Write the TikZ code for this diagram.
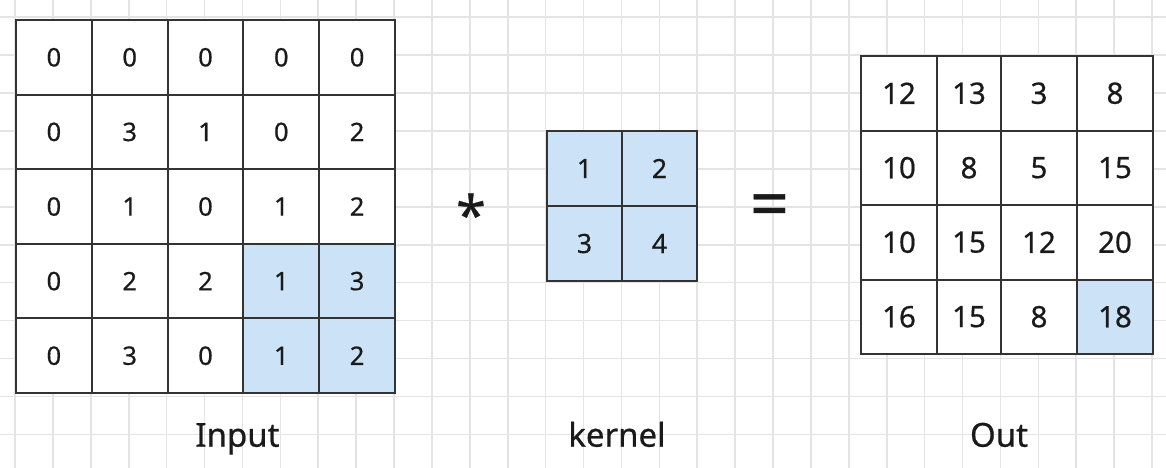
\documentclass[tikz,border=0pt]{standalone}
\usepackage{fontspec}
\setmainfont{Noto Sans}[FakeBold=0.6]
\definecolor{cellblue}{HTML}{CCE2F7}
\definecolor{cellline}{HTML}{333333}
\definecolor{gridgray}{HTML}{E4E4E4}
\definecolor{txt}{HTML}{1A1A1A}
\begin{document}
\begin{tikzpicture}[x=1pt,y=-1pt,
  cell/.style={draw=cellline,line width=2pt,rectangle,inner sep=0pt,fill=white,text=txt},
  hl/.style={fill=cellblue},
  incell/.style={cell,minimum width=75.8pt,minimum height=74.6pt,font=\fontsize{25.5}{30}\selectfont},
  kcell/.style={cell,minimum width=75pt,minimum height=75pt,fill=cellblue,font=\fontsize{26.5}{30}\selectfont},
  ocell/.style={cell,minimum height=74.5pt,font=\fontsize{29.5}{34}\selectfont},
  lbl/.style={anchor=base,text=txt,font=\fontsize{33}{38}\selectfont,inner sep=0pt},
  op/.style={text=txt,inner sep=0pt}]
\fill[white] (0,0) rectangle (1166,468);
\useasboundingbox (0,0) rectangle (1166,468);
% background grid
\foreach \k in {0,...,30} \draw[gridgray,line width=1.6pt] (15+37.9*\k,0) -- (15+37.9*\k,468);
\foreach \k in {0,...,12} \draw[gridgray,line width=1.6pt] (0,17+37.95*\k) -- (1166,17+37.95*\k);
% Input 5x5
\foreach \row [count=\r from 0] in {{0,0,0,0,0},{0,3,1,0,2},{0,1,0,1,2},{0,2,2,1,3},{0,3,0,1,2}}{
  \foreach \v [count=\c from 0] in \row {
    \pgfmathtruncatemacro{\ishl}{(\r>=3 && \c>=3) ? 1 : 0}
    \ifnum\ishl=1
      \node[incell,hl] (in-\r-\c) at (53.9+75.8*\c,57.3+74.6*\r) {\v};
    \else
      \node[incell] (in-\r-\c) at (53.9+75.8*\c,57.3+74.6*\r) {\v};
    \fi
  }
}
% kernel 2x2
\node[kcell] (k-0-0) at (584.5,168.5) {1};
\node[kcell] (k-0-1) at (659.5,168.5) {2};
\node[kcell] (k-1-0) at (584.5,243.5) {3};
\node[kcell] (k-1-1) at (659.5,243.5) {4};
% Output 4x4
\foreach \a/\b/\cc/\d [count=\r from 0] in {12/13/3/8,10/8/5/15,10/15/12/20,16/15/8/18}{
  \pgfmathsetmacro{\cy}{93.25+74.5*\r}
  \node[ocell,minimum width=76pt] (out-\r-0) at (899,\cy) {\a};
  \node[ocell,minimum width=64pt] (out-\r-1) at (969,\cy) {\b};
  \node[ocell,minimum width=76pt] (out-\r-2) at (1039,\cy) {\cc};
  \ifnum\r=3
    \node[ocell,hl,minimum width=76pt] (out-\r-3) at (1115,\cy) {\d};
  \else
    \node[ocell,minimum width=76pt] (out-\r-3) at (1115,\cy) {\d};
  \fi
}
% operators
\node[op,font=\fontsize{54}{54}\selectfont] (star) at (471,214) {*};
\node[op,font=\fontsize{68}{68}\selectfont] (eq) at (769.5,211) {=};
% labels
\node[lbl] (lin) at (237.5,446.7) {Input};
\node[lbl] (lk) at (617,446.7) {kernel};
\node[lbl] (lout) at (999,446.7) {Out};
\end{tikzpicture}
\end{document}
